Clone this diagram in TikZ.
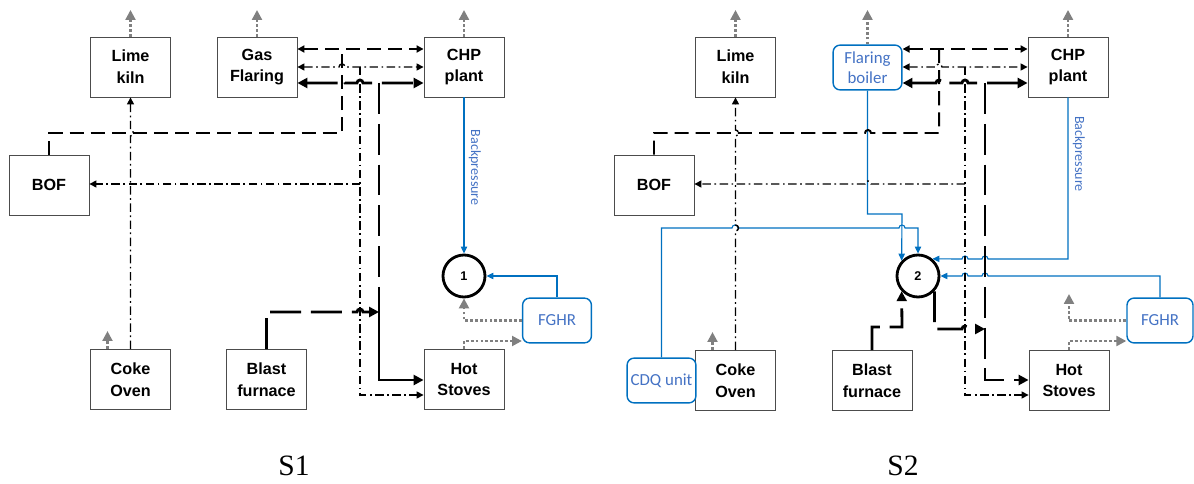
\documentclass[tikz,border=0pt]{standalone}
\usepackage{fontspec}
\setmainfont{Liberation Sans}
\newfontfamily\calib{Carlito}
\newfontfamily\timesf{Liberation Serif}
\usepackage{xcolor}
\usetikzlibrary{arrows.meta}
\definecolor{stblue}{RGB}{0,112,192}
\definecolor{txblue}{RGB}{68,114,196}

\begin{document}
\begin{tikzpicture}[x=0.025cm,y=-0.025cm,
  box/.style={draw=black!70,line width=0.6pt,minimum width=2cm,minimum height=1.5cm,inner sep=1pt,align=center,font=\bfseries\fontsize{11.5}{15.5}\selectfont},
  unit/.style={draw=stblue,rounded corners=5pt,line width=1pt,minimum width=1.72cm,minimum height=1.12cm,inner sep=1pt,align=center,text=txblue,font=\calib\fontsize{12}{14}\selectfont},
  hub/.style={circle,draw,line width=2pt,minimum size=1.05cm,inner sep=0pt,font=\bfseries\fontsize{9}{9}\selectfont},
  flue/.style={draw=gray,line width=1.6pt,dash pattern=on 2pt off 1.5pt,arrows={-Triangle[length=7pt,width=7pt]}},
  bofg/.style={line width=1.4pt,dash pattern=on 10pt off 5pt},
  cog/.style={line width=1pt,dash pattern=on 6pt off 2.5pt on 1.2pt off 2.5pt},
  bfg/.style={line width=2pt,dash pattern=on 22pt off 7pt},
  steam/.style={draw=stblue,line width=0.8pt,arrows={-Triangle[length=5pt,width=4.5pt]}},
  bplabel/.style={rotate=-90,anchor=south,inner sep=3pt,text=txblue,font=\calib\fontsize{10}{10}\selectfont},
  tip/.style={arrows={-Triangle[length=5pt,width=5pt]}},
  bi/.style={arrows={Triangle[length=5pt,width=5pt]-Triangle[length=5pt,width=5pt]}},
  bigtip/.style={arrows={-Triangle[length=7pt,width=7pt]}},
  bbi/.style={arrows={Triangle[length=7pt,width=7pt]-Triangle[length=7pt,width=7pt]}}]
\useasboundingbox (0,0) rectangle (1194,484);
\coordinate (top) at (0,10);

% S1
\node[box] (lk1) at (130.5,67) {Lime\\kiln};
\node[box] (gf1) at (257,67) {Gas\\Flaring};
\node[box] (chp1) at (464,67) {CHP\\plant};
\node[box] (bof1) at (49,185) {BOF};
\node[box] (co1) at (130.5,379.5) {Coke\\Oven};
\node[box] (bf1) at (266.5,379.5) {Blast\\furnace};
\node[box] (hs1) at (464,379.5) {Hot\\Stoves};
\node[hub] (n1) at (464,276) {1};
\node[unit] (fg1) at (557,320.5) {FGHR};
\node[font=\timesf\fontsize{21}{21}\selectfont] (s1) at (294,466) {S1};

\draw[flue] (lk1.north) -- (lk1.north |- top);
\draw[flue] (gf1.north) -- (gf1.north |- top);
\draw[flue] (chp1.north) -- (chp1.north |- top);
\draw[flue] ([xshift=-0.575cm]co1.north) -- ++(0,-18);
\draw[flue] (fg1.west) -| (n1.south);
\draw[flue] (hs1.north) |- (fg1.west |- 0,341);

\draw[steam] (chp1.south) -- (n1.north) node[pos=.45,bplabel]{Backpressure};
\draw[steam] (fg1.north) |- (n1.east);

% BOF gas
\draw[bofg,bi] (gf1.east |- 0,49) -- (chp1.west |- 0,49);
\coordinate (b1) at (342,133);
\draw[bofg] (bof1.north) |- (b1) -- (b1 |- 0,49);

% coke oven gas
\draw[cog,bi] (gf1.east |- 0,67) -- (339,67) arc[start angle=180,end angle=0,radius=0.075cm] -- (chp1.west |- 0,67);
\coordinate (c1) at (360,67);
\draw[cog,tip] (c1) -- (c1 |- 0,395) -- (hs1.west |- 0,395);
\draw[cog,tip] (c1 |- 0,184) -- (bof1.east |- 0,184);
\draw[cog,tip] (co1.north) -- (co1.north |- 0,136) arc[start angle=-90,end angle=90,radius=0.075cm] -- (lk1.south);

% blast furnace gas
\draw[bfg,bbi] (gf1.east |- 0,83) -- (339,83) arc[start angle=180,end angle=0,radius=0.075cm] -- (357,83) arc[start angle=180,end angle=0,radius=0.075cm] -- (chp1.west |- 0,83);
\coordinate (f1) at (379,83);
\coordinate (m1) at (379,312);
\draw[bfg] (f1) -- (m1);
\draw[line width=2pt,bigtip] (m1) |- (hs1.west |- 0,380);
\draw[bfg,bigtip] (bf1.north) |- (357,312) arc[start angle=180,end angle=0,radius=0.075cm] -- (m1);

% S2
\node[box] (lk2) at (735.5,67) {Lime\\kiln};
\node[unit] (fb2) at (867.5,67.5) {Flaring\\boiler};
\node[box] (chp2) at (1068,67) {CHP\\plant};
\node[box] (bof2) at (654,185) {BOF};
\node[box] (co2) at (735.5,380.5) {Coke\\Oven};
\node[unit] (cdq) at (661.5,380.5) {CDQ unit};
\node[box] (bf2) at (872,380.5) {Blast\\furnace};
\node[box] (hs2) at (1069,380.5) {Hot\\Stoves};
\node[hub] (n2) at (918,276) {2};
\node[unit,minimum width=1.65cm] (fg2) at (1160,320.5) {FGHR};
\node[font=\timesf\fontsize{21}{21}\selectfont] (s2) at (903,466) {S2};

\draw[flue] (lk2.north) -- (lk2.north |- top);
\draw[flue] (fb2.north) -- (fb2.north |- top);
\draw[flue] (chp2.north) -- (chp2.north |- top);
\draw[flue] ([xshift=-0.575cm]co2.north) -- ++(0,-18);
\draw[flue] (fg2.west) -| (hs2.north |- 0,294);
\draw[flue] (hs2.north) |- (fg2.west |- 0,341);

\coordinate (k2) at (902,214);
\draw[steam] (fb2.south) |- (k2) -- (n2.137);
\draw[steam] (cdq.north) |- (732,228) arc[start angle=180,end angle=0,radius=0.075cm] -- (899,228) arc[start angle=180,end angle=0,radius=0.075cm] -- (n2.north |- 0,228) -- (n2.north);
\draw[steam] (chp2.south) -- (chp2.south |- 0,259) node[pos=.35,bplabel]{Backpressure} -- (988,259) arc[start angle=0,end angle=180,radius=0.075cm] -- (968,259) arc[start angle=0,end angle=180,radius=0.075cm] -- (n2.50);
\draw[steam] (fg2.north) |- (988,276) arc[start angle=0,end angle=180,radius=0.075cm] -- (968,276) arc[start angle=0,end angle=180,radius=0.075cm] -- (n2.east);

% BOF gas
\draw[bofg,bi] (fb2.east |- 0,49) -- (chp2.west |- 0,49);
\coordinate (b2) at (939,133);
\draw[bofg] (bof2.north) |- (865,133) arc[start angle=180,end angle=0,radius=0.075cm] -- (b2) -- (b2 |- 0,49);

% coke oven gas
\draw[cog,bi] (fb2.east |- 0,67) -- (936,67) arc[start angle=180,end angle=0,radius=0.075cm] -- (chp2.west |- 0,67);
\coordinate (c2) at (965,67);
\draw[cog,tip] (c2) -- (c2 |- 0,395) -- (hs2.west |- 0,395);
\draw[cog,tip] (c2 |- 0,184) -- (871,184) arc[start angle=0,end angle=180,radius=0.075cm] -- (bof2.east |- 0,184);
\draw[cog,tip] (co2.north) -- (co2.north |- 0,231) arc[start angle=-90,end angle=90,radius=0.075cm] -- (co2.north |- 0,136) arc[start angle=-90,end angle=90,radius=0.075cm] -- (lk2.south);

% blast furnace gas
\draw[bfg,bbi] (fb2.east |- 0,83) -- (936,83) arc[start angle=180,end angle=0,radius=0.075cm] -- (962,83) arc[start angle=180,end angle=0,radius=0.075cm] -- (chp2.west |- 0,83);
\coordinate (f2) at (985,83);
\draw[bfg,bigtip] (f2) |- (hs2.west |- 0,380);
\coordinate (m2) at (902,327);
\draw[bfg,bigtip] (bf2.north) |- (m2) -- (n2.223);
\draw[bfg,bigtip] (n2.-43) |- (962,329) arc[start angle=180,end angle=0,radius=0.075cm] -- (f2 |- 0,329);
\end{tikzpicture}
\end{document}
